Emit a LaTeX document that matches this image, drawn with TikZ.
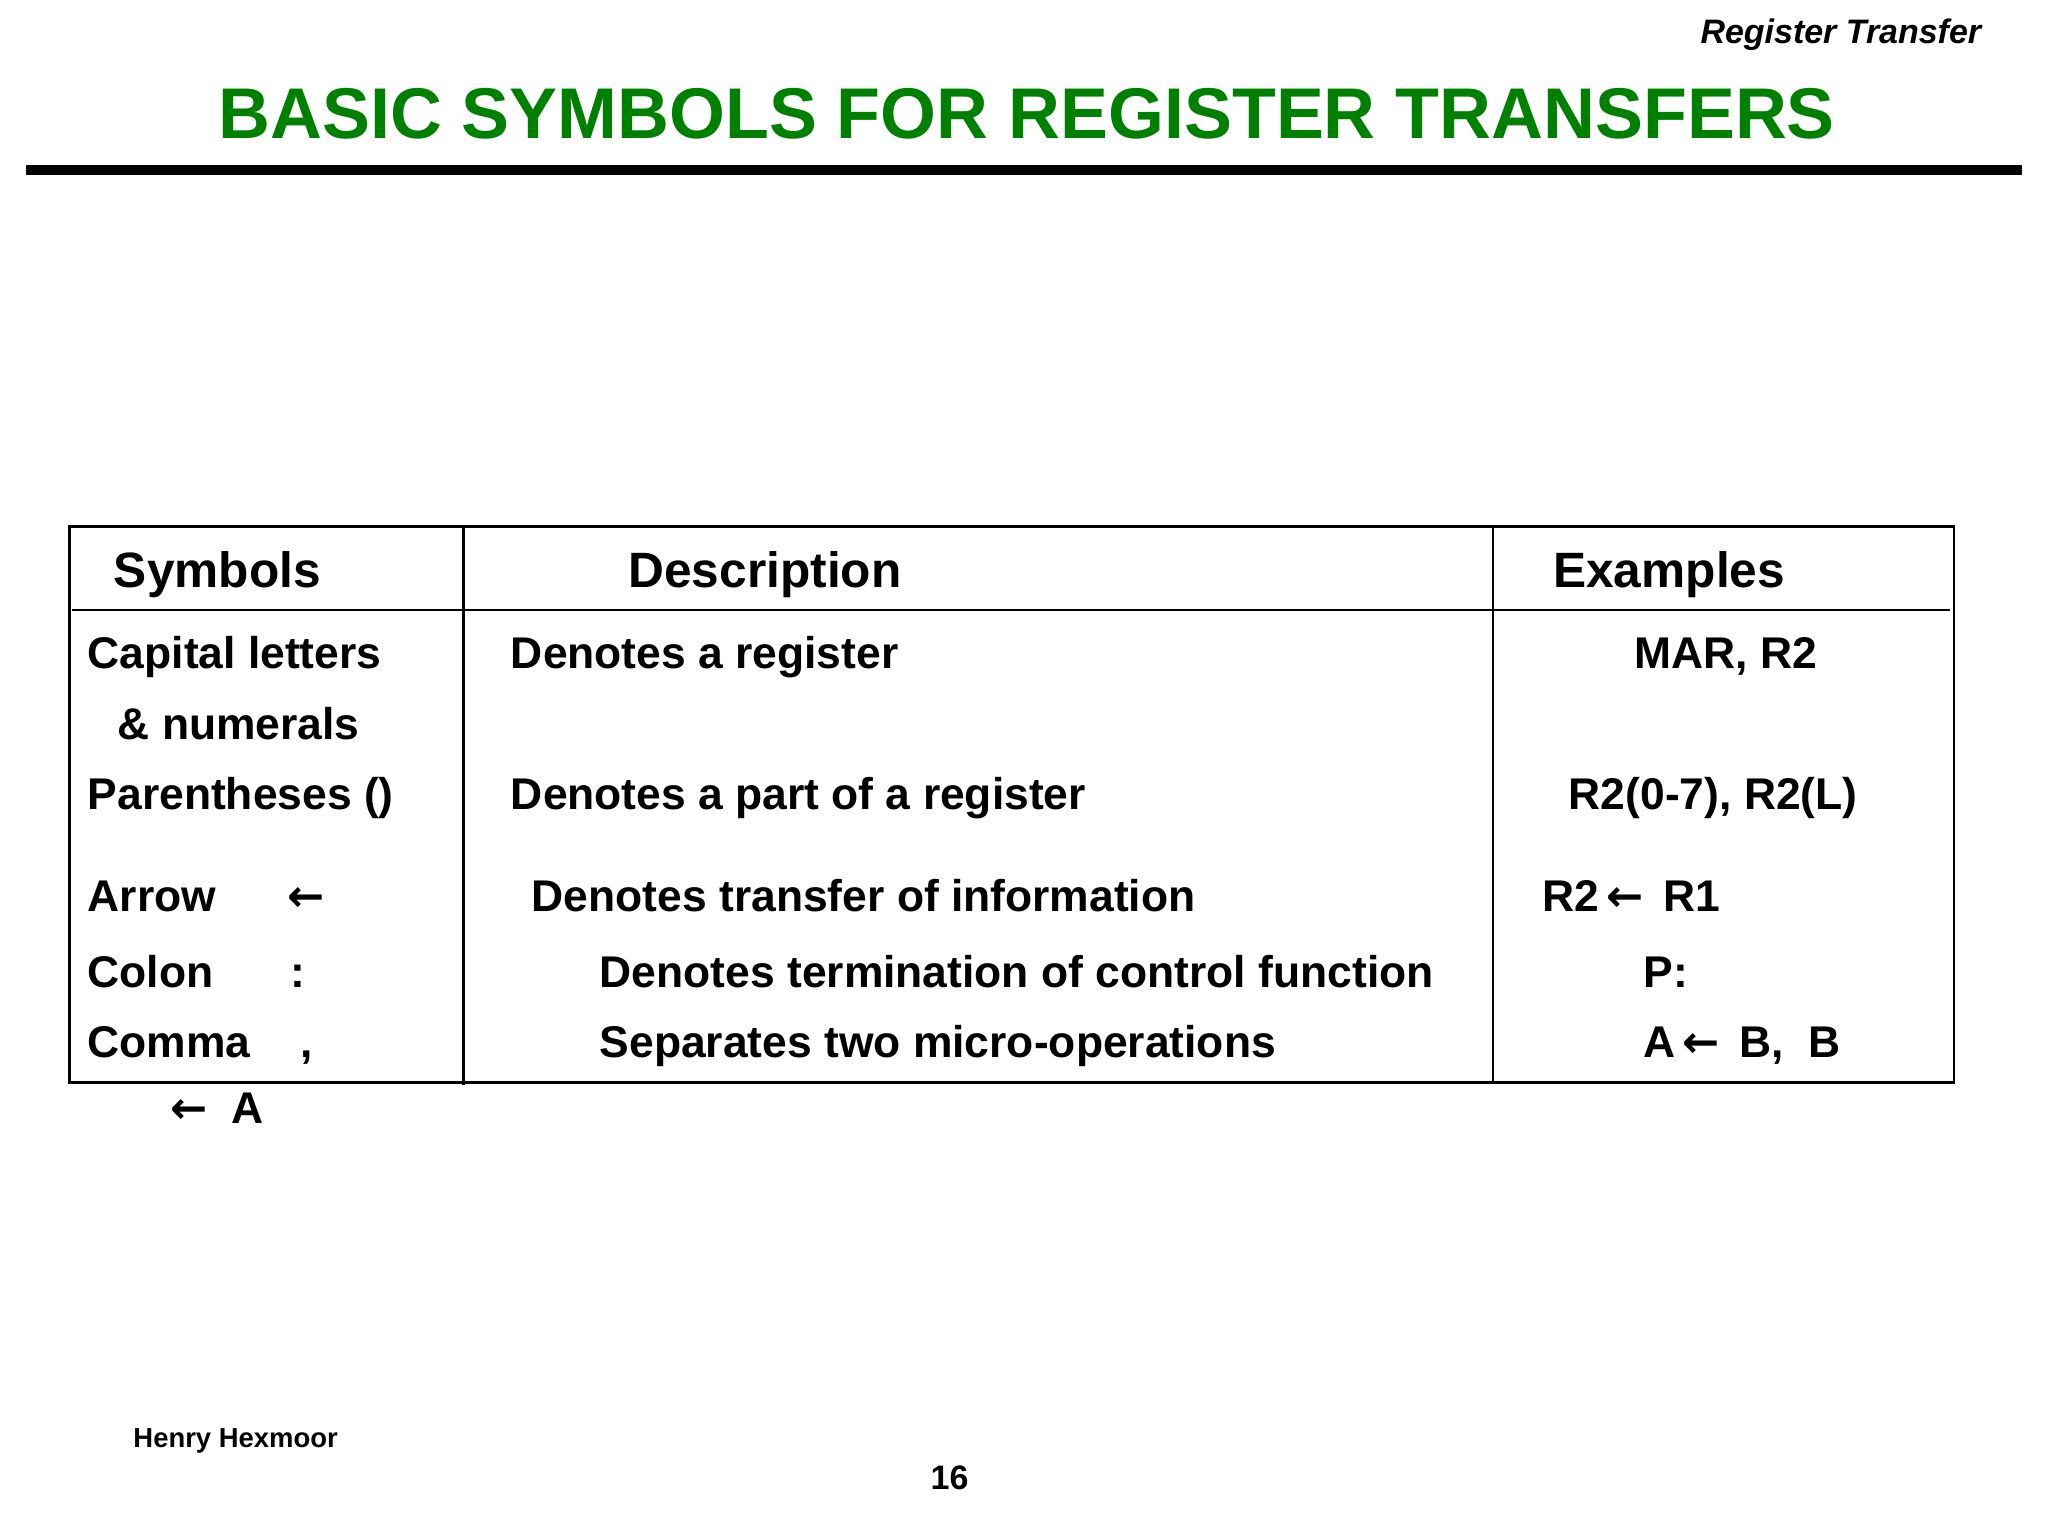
\documentclass[tikz,border=0pt]{standalone}
\usepackage{fontspec}
\setmainfont{Liberation Sans}
\newfontfamily\arr{DejaVu Sans}
\definecolor{ttl}{RGB}{0,128,0}
\begin{document}
\begin{tikzpicture}[x=1pt,y=-1pt,
  t/.style={anchor=base west,inner sep=0pt,font=\fontsize{34}{34}\selectfont\bfseries},
  h/.style={anchor=base west,inner sep=0pt,font=\fontsize{38}{38}\selectfont\bfseries}]
\useasboundingbox[fill=white] (0,0) rectangle (1568,1176);
\node[anchor=base east,inner sep=0pt,font=\fontsize{26}{26}\selectfont\bfseries\itshape] (hd) at (1517,33) {Register Transfer};
\node[anchor=base,inner sep=0pt,text=ttl,font=\fontsize{55}{55}\selectfont\bfseries] (title) at (786,106) {BASIC SYMBOLS FOR REGISTER TRANSFERS};
\draw[line width=8] (20,130) -- (1548,130);
\draw[line width=2] (53,403) rectangle (1496,829);
\draw[line width=2] (355,403) -- (355,831) (1143,403) -- (1143,829) (55,467) -- (1493,467);
\node[h] (c1) at (87,450) {Symbols};
\node[h] (c2) at (481,450) {Description};
\node[h] (c3) at (1189,450) {Examples};
\node[t] (a1) at (67,512) {Capital letters};
\node[t] (a2) at (90,566) {\& numerals};
\node[t] (b1) at (391,512) {Denotes a register};
\node[t] (e1) at (1251,512) {MAR, R2};
\node[t] (a3) at (67,620) {Parentheses ()};
\node[t] (b2) at (391,620) {Denotes a part of a register};
\node[t] (e2) at (1201,620) {R2(0-7), R2(L)};
\node[t] (a4) at (67,698) {Arrow};
\node[t] (a4s) at (220,698) {{\arr ←}};
\node[t] (b3) at (407,698) {Denotes transfer of information};
\node[t] (e3) at (1181,698) {R2\,{\arr ←}\, R1};
\node[t] (a5) at (67,756) {Colon};
\node[t] (a5s) at (222,756) {:};
\node[t] (b4) at (459,756) {Denotes termination of control function};
\node[t] (e4) at (1258,756) {P:};
\node[t] (a6) at (67,810) {Comma};
\node[t] (a6s) at (230,810) {,};
\node[t] (b5) at (459,810) {Separates two micro-operations};
\node[t] (e5) at (1258,810) {A\,{\arr ←}\, B,\ \ B};
\node[t] (a7) at (130,860) {{\arr ←}\ \ A};
\node[anchor=base west,inner sep=0pt,font=\fontsize{21}{21}\selectfont\bfseries] (auth) at (102,1108) {Henry Hexmoor};
\node[anchor=base,inner sep=0pt,font=\fontsize{26}{26}\selectfont\bfseries] (pg) at (727,1140) {16};
\end{tikzpicture}
\end{document}
